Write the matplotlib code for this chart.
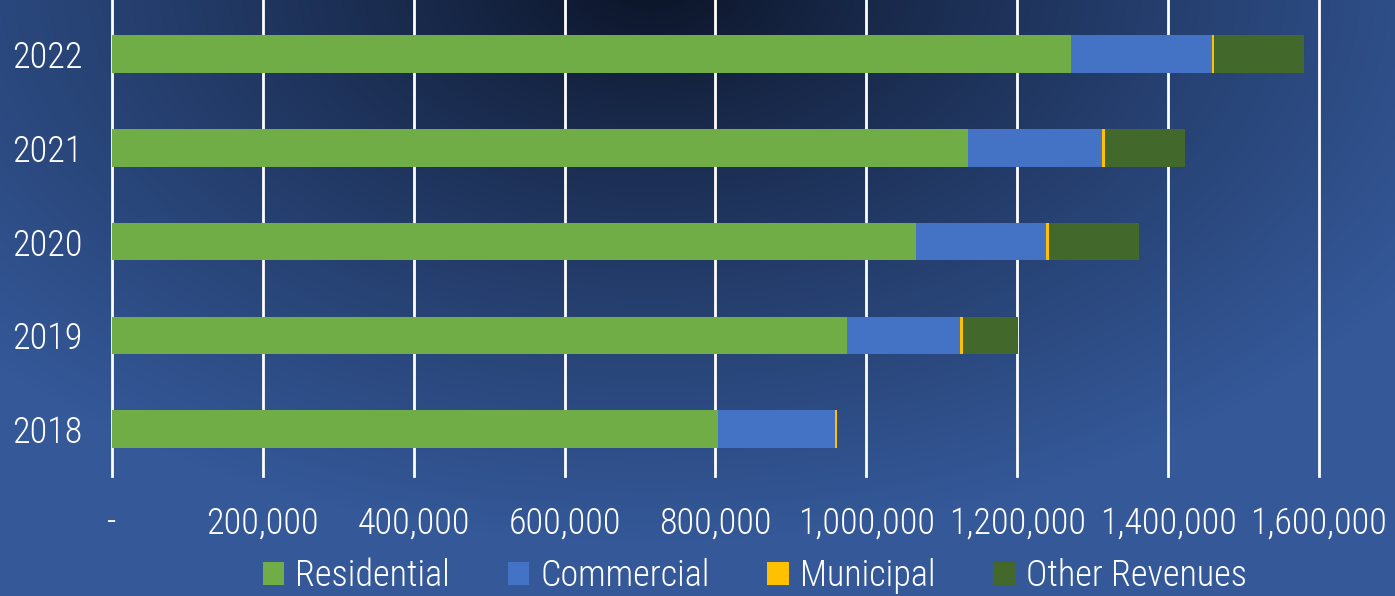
import numpy as np
import matplotlib
matplotlib.use("Agg")
import matplotlib.pyplot as plt
from matplotlib.patches import Patch
from matplotlib.ticker import FuncFormatter
from matplotlib import font_manager

years = ["2018", "2019", "2020", "2021", "2022"]
residential = [803000, 974000, 1066000, 1135000, 1271000]
commercial = [155000, 150000, 172000, 177000, 187000]
municipal = [3500, 3500, 3500, 4000, 3000]
other = [0, 74000, 120000, 106000, 119000]

series = [("Residential", residential, "#70AD47"),
          ("Commercial", commercial, "#4472C4"),
          ("Municipal", municipal, "#FFC000"),
          ("Other Revenues", other, "#43682B")]

# pick a narrow-ish font if one is installed
names = {f.name for f in font_manager.fontManager.ttflist}
font, fs = "DejaVu Sans", 20
for cand, size in [("Liberation Sans Narrow", 27), ("Roboto Condensed", 26),
                   ("Open Sans Condensed", 26), ("Roboto", 23)]:
    if cand in names:
        font, fs = cand, size
        break
plt.rcParams["font.family"] = [font, "DejaVu Sans"]
plt.rcParams["font.weight"] = "light"

fig = plt.figure(figsize=(13.95, 5.96), dpi=100)

# background gradient
bg = fig.add_axes([0, 0, 1, 1])
h, w = 596, 1395
yy, xx = np.mgrid[0:h, 0:w]
r = np.sqrt(((xx - 650) / 1.6) ** 2 + (yy + 20) ** 2)
t = np.clip(r / 560, 0, 1) ** 0.8
inner = np.array([10, 17, 34]) / 255
outer = np.array([52, 88, 152]) / 255
img = inner[None, None, :] * (1 - t[..., None]) + outer[None, None, :] * t[..., None]
bg.imshow(img, aspect="auto", extent=[0, 1, 0, 1])
bg.axis("off")

ax = fig.add_axes([0.0803, 0.2013, 0.8652, 0.7987])
ax.patch.set_alpha(0)
pos = np.arange(len(years))
left = np.zeros(len(years))
handles = []
for name, vals, col in series:
    ax.barh(pos, vals, left=left, height=0.4, color=col, zorder=3)
    left += np.array(vals)
    handles.append(Patch(facecolor=col, label=name))

ax.set_xlim(0, 1600000)
ax.set_ylim(-0.501, 4.576)
ax.set_xticks(np.arange(0, 1600001, 200000))
ax.xaxis.set_major_formatter(FuncFormatter(lambda v, p: "-" if v == 0 else f"{int(v):,}"))
ax.set_yticks(pos)
ax.set_yticklabels(years)
ax.grid(axis="x", color="white", linewidth=2, zorder=1)
for gl in ax.get_xgridlines():
    gl.set_clip_on(False)
for s in ax.spines.values():
    s.set_visible(False)
ax.tick_params(axis="both", length=0, colors="white", labelsize=fs)
ax.tick_params(axis="x", pad=21)
ax.tick_params(axis="y", pad=21)

fig.legend(handles=handles, loc="lower center", bbox_to_anchor=(0.541, -0.052), ncol=4,
           frameon=False, fontsize=fs, labelcolor="white", handlelength=0.6,
           handleheight=0.6, handletextpad=0.3, columnspacing=1.6)

fig.savefig("out.png", dpi=100)
